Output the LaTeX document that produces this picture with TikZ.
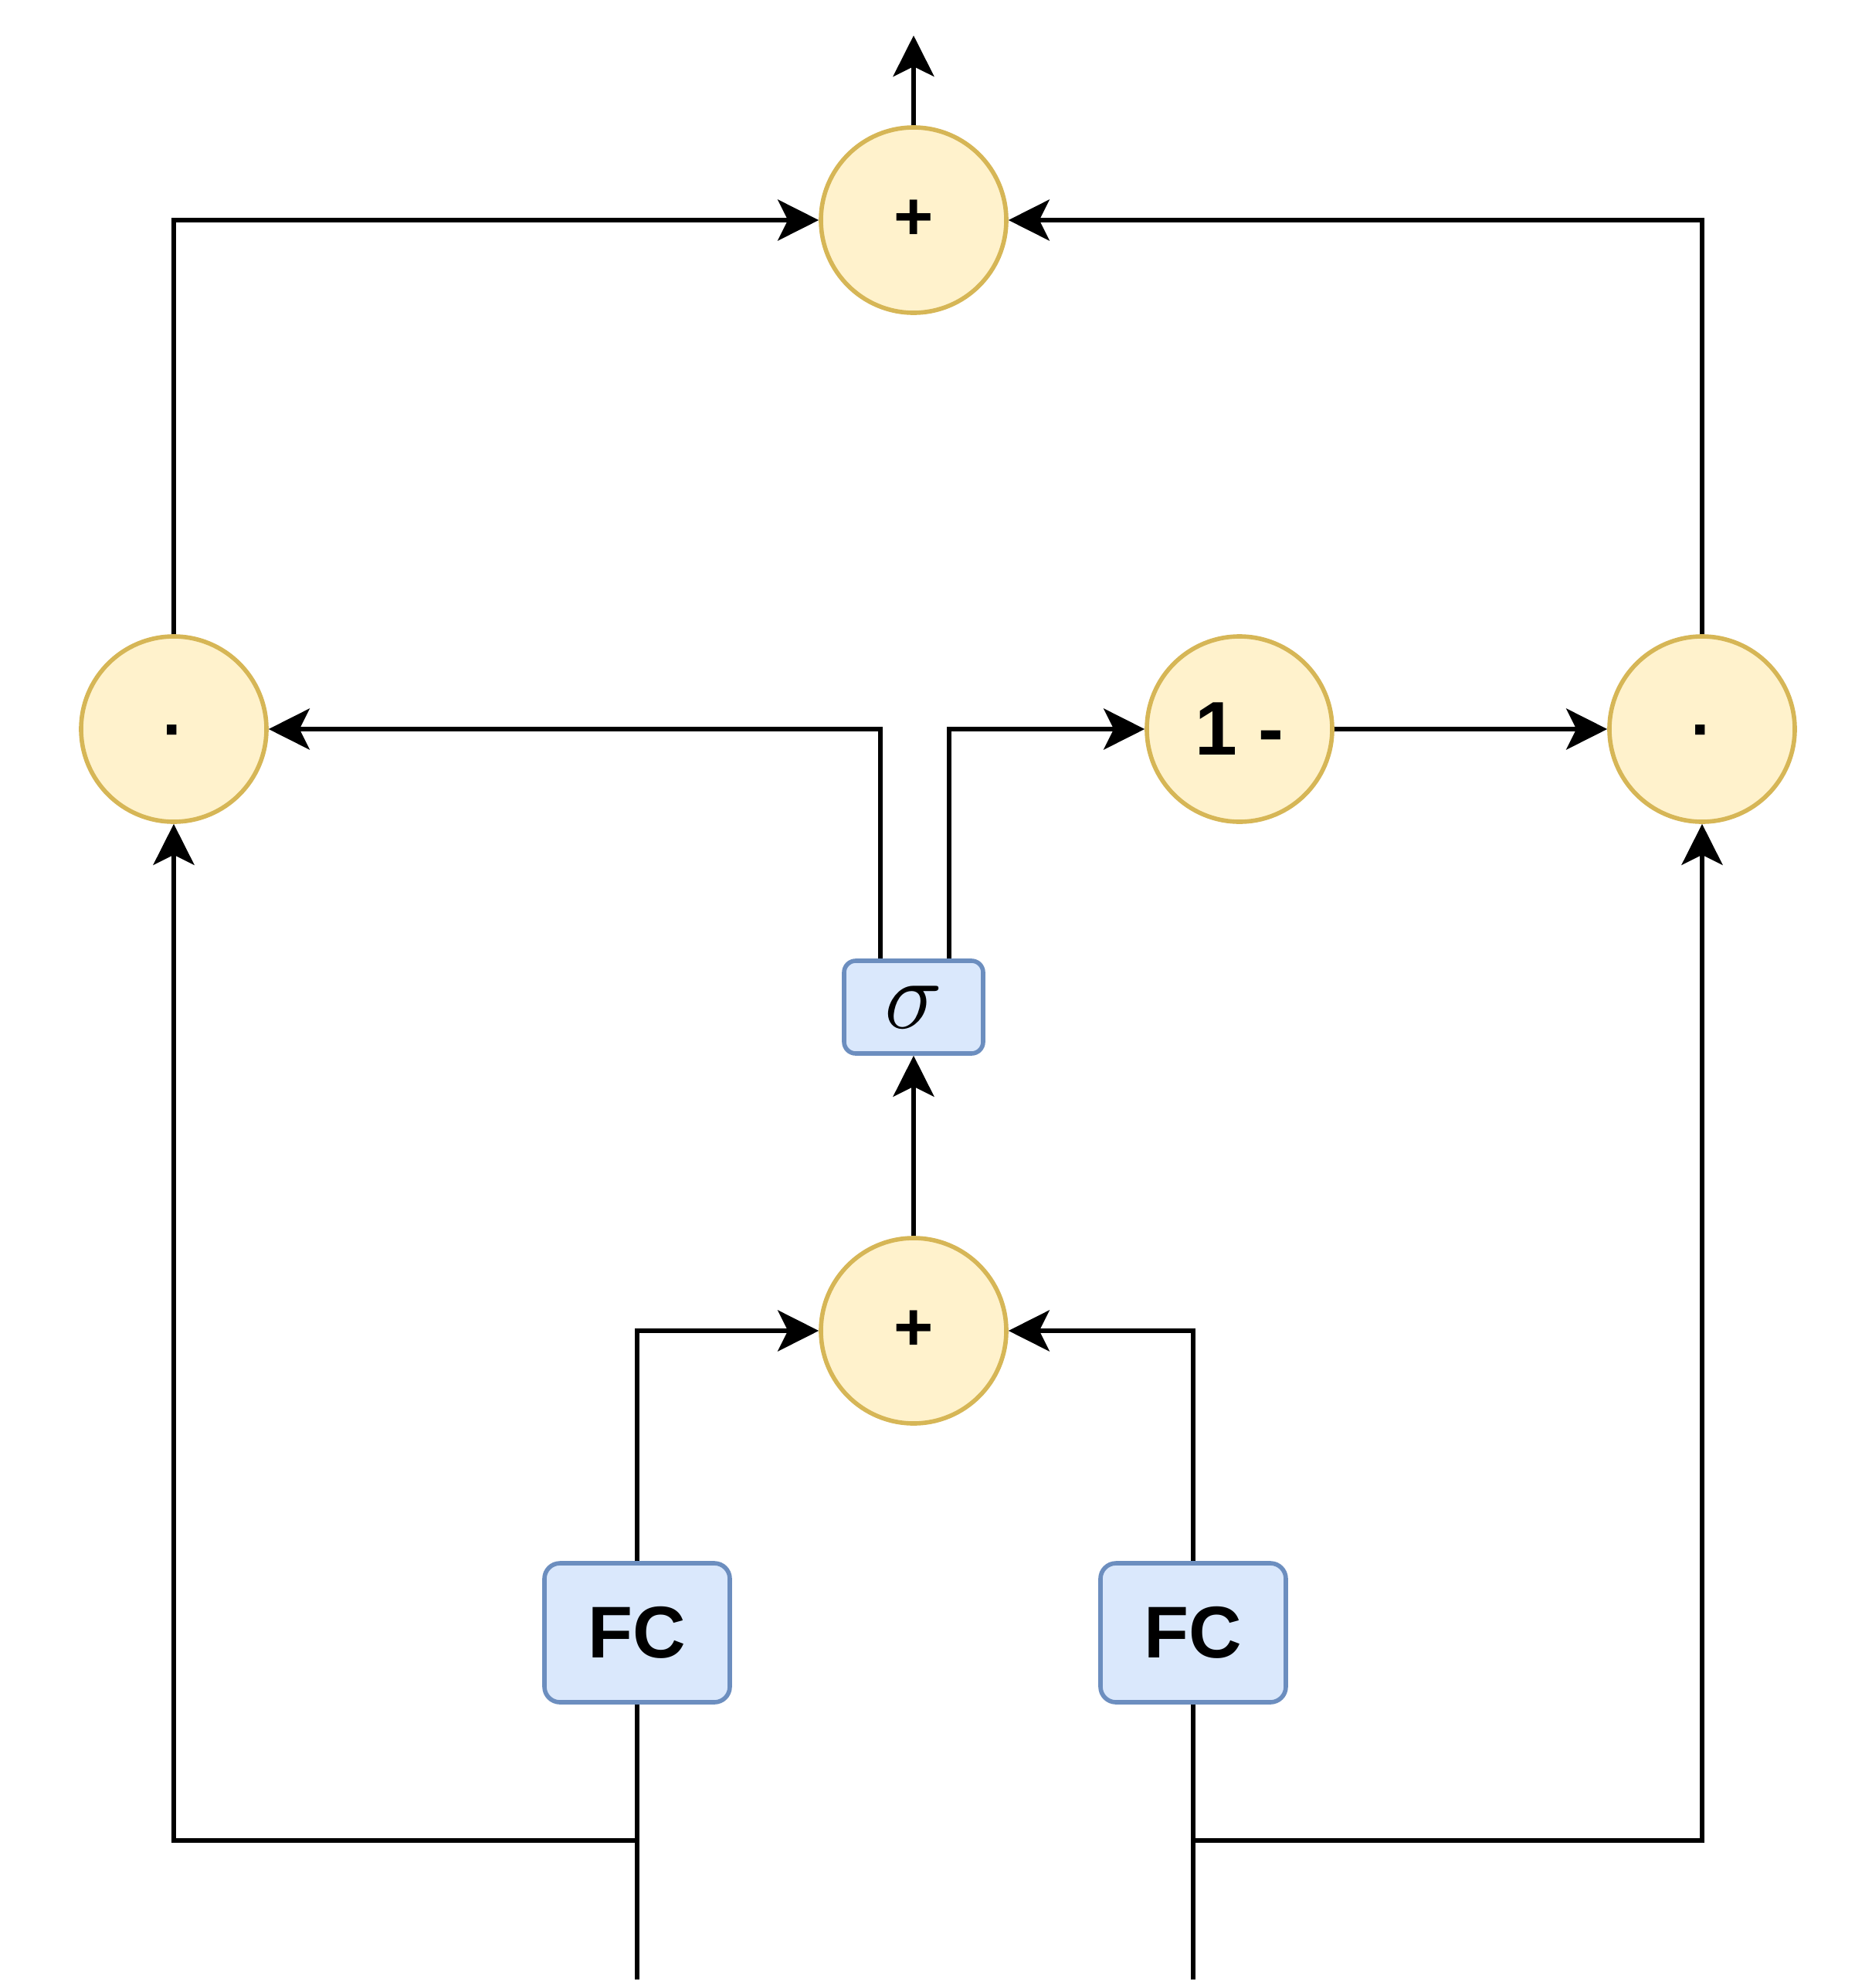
\documentclass[tikz,border=0pt]{standalone}
\usepackage{fontspec}
\setmainfont{Liberation Sans}
\usetikzlibrary{arrows.meta}

\definecolor{opfill}{HTML}{FFF2CC}
\definecolor{opdraw}{HTML}{D6B656}
\definecolor{fcfill}{HTML}{DAE8FC}
\definecolor{fcdraw}{HTML}{6C8EBF}

\begin{document}
\begin{tikzpicture}[
    op/.style={circle, fill=opfill, draw=opdraw, line width=1.6pt, minimum size=2.4cm, inner sep=0pt, font=\fontsize{25}{30}\selectfont\bfseries},
    layer/.style={rectangle, rounded corners=0.2cm, fill=fcfill, draw=fcdraw, line width=1.6pt, inner sep=0pt},
    flow/.style={line width=1.7pt, -{Stealth[length=5.3mm, width=5.3mm, inset=1.3mm]}},
    wire/.style={line width=1.7pt}
]
\useasboundingbox (0,0) rectangle (24.24,-25.74);

% Operaciones
\node [op] (sumOut) at (11.83,-2.85) {+};
\node [op] (prodL) at (2.25,-9.44) {\vphantom{1}·};
\node [op, font=\fontsize{28}{32}\selectfont\bfseries] (oneMinus) at (16.05,-9.44) {1 -};
\node [op] (prodR) at (22.04,-9.44) {\vphantom{1}·};
\node [op] (sumIn) at (11.83,-17.23) {+};

% Capas
\node [layer, minimum width=1.8cm, minimum height=1.2cm, rounded corners=0.15cm] (gate) at (11.83,-13.04) {\fontsize{24.88}{30}\selectfont\scalebox{1.45}{$\sigma$}};
\node [layer, minimum width=2.4cm, minimum height=1.8cm, font=\fontsize{27}{32}\selectfont\bfseries] (fcL) at (8.25,-21.14) {FC};
\node [layer, minimum width=2.4cm, minimum height=1.8cm, font=\fontsize{27}{32}\selectfont\bfseries] (fcR) at (15.45,-21.14) {FC};

% Entradas y salida
\coordinate (inL) at (8.25,-25.63);
\coordinate (inR) at (15.45,-25.63);
\coordinate (splitL) at (8.25,-23.83);
\coordinate (splitR) at (15.45,-23.83);
\coordinate (out) at (11.83,-0.46);

% Conexiones
\draw [wire] (inL) -- (fcL.south);
\draw [wire] (inR) -- (fcR.south);
\draw [flow] (splitL) -| (prodL.south);
\draw [flow] (splitR) -| (prodR.south);
\draw [flow] (fcL.north) |- (sumIn.west);
\draw [flow] (fcR.north) |- (sumIn.east);
\draw [flow] (sumIn.north) -- (gate.south);
\draw [flow] ([xshift=-0.43cm]gate.north) |- (prodL.east);
\draw [flow] ([xshift=0.46cm]gate.north) |- (oneMinus.west);
\draw [flow] (oneMinus.east) -- (prodR.west);
\draw [flow] (prodL.north) |- (sumOut.west);
\draw [flow] (prodR.north) |- (sumOut.east);
\draw [flow] (sumOut.north) -- (out);
\end{tikzpicture}
\end{document}
